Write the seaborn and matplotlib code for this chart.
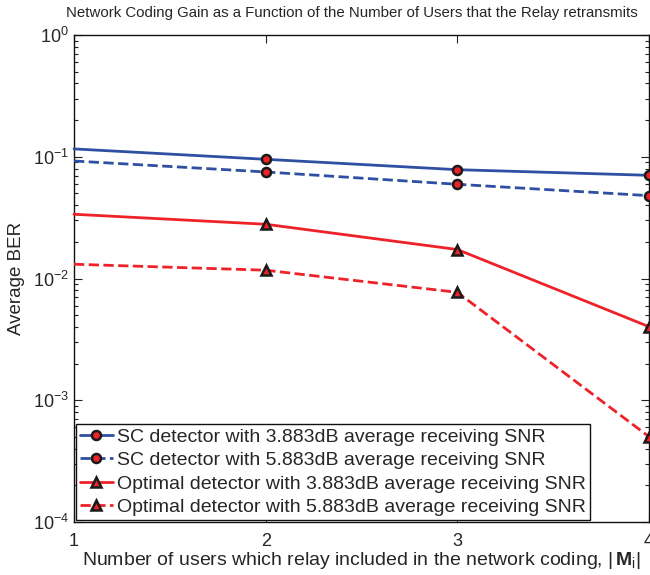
import matplotlib
matplotlib.use("Agg")
import matplotlib.pyplot as plt
import seaborn as sns
import pandas as pd
from matplotlib.ticker import LogLocator, FixedLocator, NullFormatter

# Number of users combined by the relay
users = [1, 2, 3, 4]

# Average BER for each detector / SNR setting
sc_3883 = [0.116, 0.0953, 0.0783, 0.0704]
sc_5883 = [0.0923, 0.0750, 0.0594, 0.0479]
opt_3883 = [0.0337, 0.0279, 0.0173, 0.00402]
opt_5883 = [0.0131, 0.0117, 0.0077, 0.000502]

labels = [
    "SC detector with 3.883dB average receiving SNR",
    "SC detector with 5.883dB average receiving SNR",
    "Optimal detector with 3.883dB average receiving SNR",
    "Optimal detector with 5.883dB average receiving SNR",
]

BLUE = "#2f4fa2"
RED = "#ee2229"

series = [
    (sc_3883, BLUE, "-", "o"),
    (sc_5883, BLUE, "--", "o"),
    (opt_3883, RED, "-", "^"),
    (opt_5883, RED, "--", "^"),
]

sns.set_style("ticks")
plt.rcParams["font.family"] = ["Liberation Sans", "DejaVu Sans"]
plt.rcParams["mathtext.fontset"] = "custom"
plt.rcParams["mathtext.rm"] = "Liberation Sans"
plt.rcParams["mathtext.bf"] = "Liberation Sans:bold"
plt.rcParams["mathtext.it"] = "Liberation Sans:italic"

fig = plt.figure(figsize=(6.5, 5.75), dpi=100)
ax = fig.add_axes([74 / 650, 53 / 575, 575 / 650, 487 / 575])

for (vals, color, ls, mk), lab in zip(series, labels):
    df = pd.DataFrame({"users": users, "ber": vals})
    sns.lineplot(
        data=df, x="users", y="ber", ax=ax, color=color, linestyle=ls,
        linewidth=2.0, marker=mk, markersize=6.5 if mk == "o" else 7.5,
        markevery=[1, 2, 3],
        markerfacecolor=RED, markeredgecolor="#1a1a1a", markeredgewidth=1.8,
        label=lab, clip_on=False, zorder=3,
    )

ax.set_yscale("log")
ax.set_xlim(1, 4)
ax.set_ylim(1e-4, 1)
ax.xaxis.set_major_locator(FixedLocator(users))
ax.set_xticklabels([str(u) for u in users])
ax.yaxis.set_minor_locator(LogLocator(base=10, subs=range(2, 10), numticks=10))
ax.yaxis.set_minor_formatter(NullFormatter())
ax.set_yticks([1e-4, 1e-3, 1e-2, 1e-1, 1])
ax.set_yticklabels([r"$10^{-4}$", r"$10^{-3}$", r"$10^{-2}$", r"$10^{-1}$", r"$10^{0}$"])

ax.tick_params(which="both", direction="in", top=True, right=True,
               labelsize=13, width=0.8, color="#222222")
ax.tick_params(which="major", length=6)
ax.tick_params(which="minor", length=3)
ax.tick_params(axis="x", pad=8)
for sp in ax.spines.values():
    sp.set_linewidth(1.0)
    sp.set_color("#111111")

ax.set_xlabel(r"Number of users which relay included in the network coding, $|\,\mathbf{M}_{\mathrm{i}}|$",
              fontsize=14, labelpad=0)
ax.set_ylabel("Average BER", fontsize=13.5, labelpad=6)
fig.text(352 / 650, 1 - 13 / 575,
         "Network Coding Gain as a Function of the Number of Users that the Relay retransmits",
         fontsize=10.8, ha="center", va="center")

leg = ax.legend(loc="lower left", fontsize=14, handlelength=1.7, handletextpad=0.2,
                borderpad=0.2, labelspacing=0.3, borderaxespad=0.1,
                fancybox=False, framealpha=1, edgecolor="#111111")
leg.get_frame().set_linewidth(1.0)

fig.savefig("out.png", dpi=100)
